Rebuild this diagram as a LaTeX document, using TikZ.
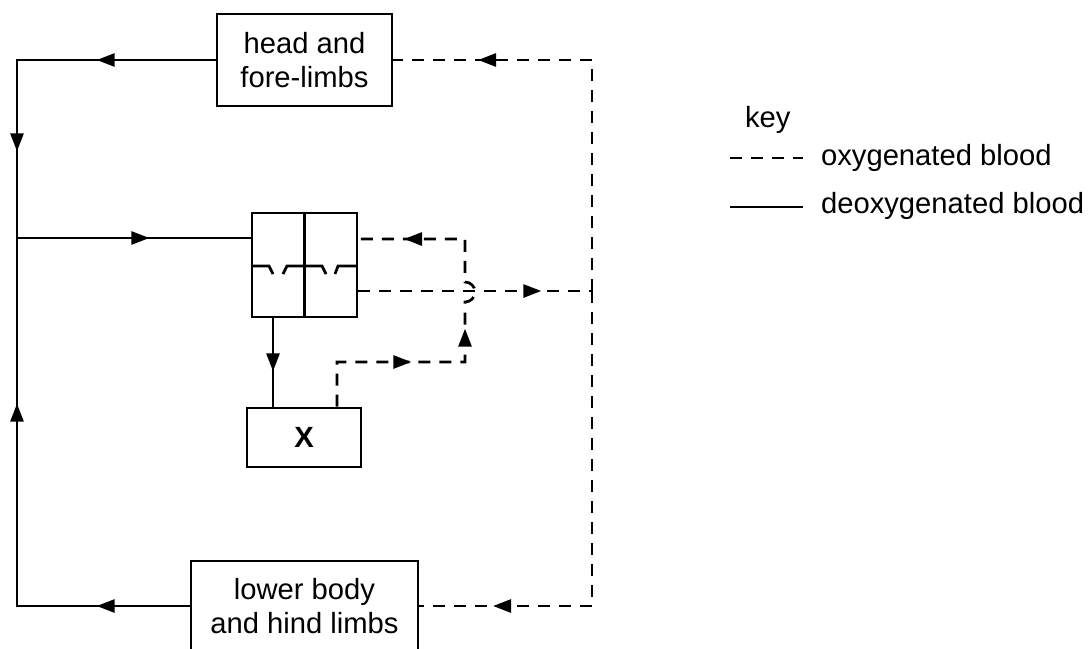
\documentclass[tikz,border=0pt]{standalone}
\usepackage{fontspec}
\setmainfont{Liberation Sans}
\usetikzlibrary{arrows.meta,decorations.markings}
\tikzset{
  vessel/.style={line width=1.35pt},
  deoxy/.style={vessel},
  oxy/.style={vessel, dash pattern=on 6pt off 4.5pt},
  organ/.style={draw, line width=1.35pt, align=center, inner sep=0pt},
  arrowat/.style={postaction={decorate,decoration={markings,
      mark=at position #1 with {\arrow{Triangle[length=9pt,width=6.5pt]}}}}},
}
\begin{document}
\begin{tikzpicture}[x=0.5pt,y=-0.5pt,font=\fontsize{14.6pt}{17pt}\selectfont]
  \useasboundingbox (0,0) rectangle (1090,648);
  \clip (0,0) rectangle (1090,648);
  % organi
  \node[organ, minimum width=87.5pt, minimum height=46pt] (hf) at (304.5,60) {head and\\fore-limbs};
  \node[organ, minimum width=113.5pt, minimum height=45pt] (lb) at (304.5,606) {lower body\\and hind limbs};
  \node[organ, minimum width=57pt, minimum height=29.5pt, font=\fontsize{14.6pt}{17pt}\selectfont\bfseries] (X) at (304,437.5) {X};
  \node[organ, minimum width=52.5pt, minimum height=52pt] (heart) at (304.5,265) {};
  % cuore: setto e valvole
  \draw[vessel] (heart.north) -- (heart.south);
  \draw[vessel] (252,266) -- (269,266) -- (273,274);
  \draw[vessel] (283,274) -- (287,266) -- (322,266) -- (326,274);
  \draw[vessel] (335,274) -- (338,266) -- (357,266);
  % punti di raccordo
  \coordinate (tl) at (17,60);
  \coordinate (ml) at (17,238);
  \coordinate (bl) at (17,606);
  \coordinate (tr) at (592,60);
  \coordinate (mr) at (592,291);
  \coordinate (br) at (592,606);
  \coordinate (xv) at (273,0);
  \coordinate (xo) at (337,362);
  \coordinate (bj) at (465,362);
  \coordinate (tj) at (465,239);
  % sangue deossigenato
  \draw[deoxy, arrowat=59.5pt, arrowat=145pt, arrowat=254.5pt] (hf.west) -- (tl) -- (ml) -- (ml -| heart.west);
  \draw[deoxy, arrowat=46.5pt, arrowat=187.5pt] (lb.west) -- (bl) -- (ml);
  \draw[deoxy, arrowat=26.5pt] (heart.south -| xv) -- (X.north -| xv);
  % sangue ossigenato
  \draw[oxy, arrowat=172.5pt] (mr) -- (tr) -- (hf.east);
  \draw[oxy, arrowat=207pt] (mr) -- (br) -- (lb.east);
  \draw[oxy, arrowat=91.5pt] (mr -| heart.east) -- (mr);
  \draw[oxy, arrowat=59.5pt, arrowat=103pt, arrowat=184pt] (X.north -| xo) -- (xo) -- (bj) -- ++(0,-60)
    arc[start angle=-90, end angle=90, radius=5pt] -- (tj) -- (tj -| heart.east);
  % legenda
  \node[anchor=base west] (key) at (738,127) {key};
  \draw[oxy] (730,158) -- (803,158);
  \node[anchor=base west] (oxytxt) at (814,165) {oxygenated blood};
  \draw[deoxy] (730,207) -- (803,207);
  \node[anchor=base west] (deoxytxt) at (814,213) {deoxygenated blood};
\end{tikzpicture}
\end{document}
